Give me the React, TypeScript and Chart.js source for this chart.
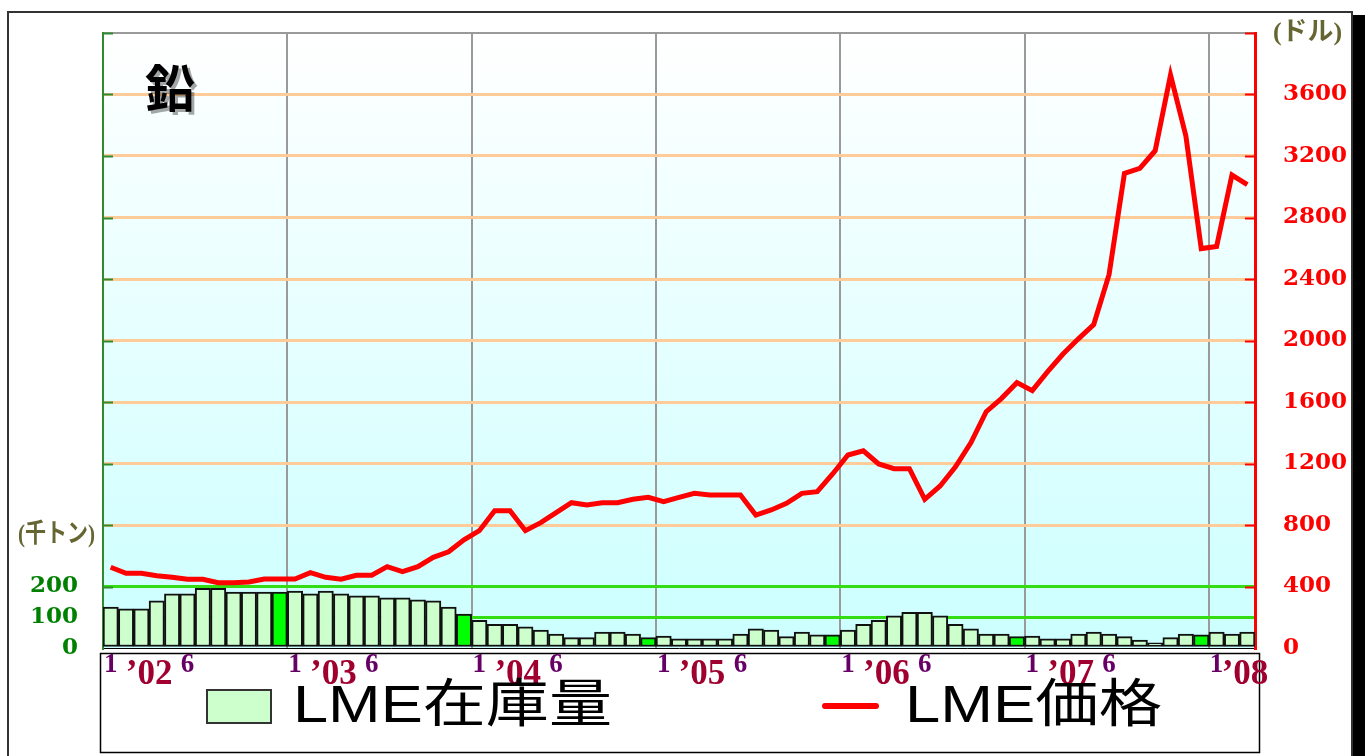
import React, { useEffect, useRef } from "react";
import { Chart, registerables } from "chart.js";

Chart.register(...registerables);

// ---- data ----
const categories: string[] = [
  "2002/01", "2002/02", "2002/03", "2002/04", "2002/05", "2002/06", "2002/07", "2002/08", "2002/09", "2002/10", "2002/11", "2002/12",
  "2003/01", "2003/02", "2003/03", "2003/04", "2003/05", "2003/06", "2003/07", "2003/08", "2003/09", "2003/10", "2003/11", "2003/12",
  "2004/01", "2004/02", "2004/03", "2004/04", "2004/05", "2004/06", "2004/07", "2004/08", "2004/09", "2004/10", "2004/11", "2004/12",
  "2005/01", "2005/02", "2005/03", "2005/04", "2005/05", "2005/06", "2005/07", "2005/08", "2005/09", "2005/10", "2005/11", "2005/12",
  "2006/01", "2006/02", "2006/03", "2006/04", "2006/05", "2006/06", "2006/07", "2006/08", "2006/09", "2006/10", "2006/11", "2006/12",
  "2007/01", "2007/02", "2007/03", "2007/04", "2007/05", "2007/06", "2007/07", "2007/08", "2007/09", "2007/10", "2007/11", "2007/12",
  "2008/01", "2008/02", "2008/03",
];

// LME inventory (thousand tonnes)
const stock: number[] = [
  133, 127, 127, 153, 176, 176, 194, 194, 182, 182, 182, 182,
  185, 176, 185, 176, 170, 170, 163, 163, 157, 153, 133, 110,
  90, 77, 77, 69, 58, 45, 34, 34, 52, 52, 45, 34,
  39, 30, 30, 30, 30, 45, 62, 58, 37, 52, 43, 43,
  58, 77, 90, 105, 116, 116, 105, 77, 62, 45, 45, 37,
  39, 30, 30, 45, 52, 45, 37, 26, 17, 34, 45, 43,
  52, 45, 52,
];

// LME price (USD)
const price: number[] = [
  525, 486, 486, 470, 460, 447, 447, 425, 425, 429, 449, 449,
  449, 490, 460, 447, 473, 473, 529, 496, 529, 590, 626, 704,
  763, 893, 893, 763, 815, 880, 945, 930, 945, 945, 967, 980,
  952, 980, 1006, 995, 995, 995, 865, 898, 941, 1006, 1017, 1132,
  1255, 1283, 1197, 1166, 1166, 967, 1054, 1179, 1335, 1537, 1624, 1726,
  1674, 1797, 1912, 2011, 2104, 2430, 3087, 3120, 3234, 3727, 3330, 2598,
  2612, 3076, 3014,
];

const yearLabels: string[] = ["’02", "’03", "’04", "’05", "’06", "’07", "’08"];
const monthMarks: string[] = ["1", "6"];
const stockTickLabels: number[] = [0, 100, 200];
const priceMax = 4000;
const stockMax = 2000;

const titleText = "鉛";
const stockUnit = "(千トン)";
const priceUnit = "(ドル)";
const stockName = "LME在庫量";
const priceName = "LME価格";

function fitText(ctx: CanvasRenderingContext2D, text: string, x: number, y: number, w: number) {
  const m = ctx.measureText(text).width || 1;
  ctx.save();
  ctx.translate(x, y);
  ctx.scale(w / m, 1);
  ctx.textAlign = "left";
  ctx.fillText(text, 0, 0);
  ctx.restore();
}

export default function App() {
  const ref = useRef<HTMLCanvasElement>(null);

  useEffect(() => {
    const canvas = ref.current!;

    const decor = {
      id: "decor",
      beforeDraw(chart: any) {
        const ctx: CanvasRenderingContext2D = chart.ctx;
        const a = chart.chartArea;
        ctx.save();
        ctx.fillStyle = "#ffffff";
        ctx.fillRect(0, 0, chart.width, chart.height);
        // shadow + frame
        ctx.fillStyle = "#000000";
        ctx.fillRect(1352, 15, 13, 741);
        ctx.strokeStyle = "#333333";
        ctx.lineWidth = 2;
        ctx.strokeRect(8, 12, 1344, 750);
        // plot background gradient
        const g = ctx.createLinearGradient(0, a.top, 0, a.bottom);
        g.addColorStop(0, "#ffffff");
        g.addColorStop(1, "#ccffff");
        ctx.fillStyle = g;
        ctx.fillRect(a.left, a.top, a.right - a.left, a.bottom - a.top);
        ctx.restore();
      },
      afterDraw(chart: any) {
        const ctx: CanvasRenderingContext2D = chart.ctx;
        const a = chart.chartArea;
        const xs = chart.scales.x;
        const yR = chart.scales.yR;
        ctx.save();
        // inner tick marks
        ctx.lineWidth = 2;
        yR.ticks.forEach((t: any) => {
          if (t.value === 0) return;
          const y = Math.round(yR.getPixelForValue(t.value)) + 0.5;
          ctx.strokeStyle = "#ff0000";
          ctx.beginPath();
          ctx.moveTo(a.right - 10, y);
          ctx.lineTo(a.right, y);
          ctx.stroke();
          ctx.strokeStyle = "#2e8b2e";
          ctx.beginPath();
          ctx.moveTo(a.left, y);
          ctx.lineTo(a.left + 10, y);
          ctx.stroke();
        });

        // title
        ctx.font = "bold 50px 'Noto Sans CJK JP'";
        ctx.textBaseline = "middle";
        ctx.textAlign = "center";
        ctx.fillStyle = "rgba(0,0,0,0.35)";
        ctx.fillText(titleText, 173, 91);
        ctx.fillStyle = "#000000";
        ctx.fillText(titleText, 170, 88);

        // unit labels
        ctx.fillStyle = "#666633";
        ctx.font = "bold 26px 'Liberation Serif', 'Noto Sans CJK JP'";
        ctx.textBaseline = "middle";
        fitText(ctx, stockUnit, 18, 535, 77);
        fitText(ctx, priceUnit, 1273, 33, 69);

        // legend / label box
        ctx.fillStyle = "#ffffff";
        ctx.fillRect(100, 653, 1160, 100);
        ctx.strokeStyle = "#000000";
        ctx.lineWidth = 1.5;
        ctx.strokeRect(100.5, 653.5, 1159, 99);

        // x labels
        ctx.textBaseline = "alphabetic";
        ctx.textAlign = "center";
        const n = categories.length;
        categories.forEach((c, i) => {
          const m = String(parseInt(c.split("/")[1], 10));
          if (monthMarks.includes(m)) {
            ctx.fillStyle = "#660066";
            ctx.font = "bold 27px 'Liberation Serif'";
            ctx.fillText(m, xs.getPixelForValue(i), 672);
          }
        });
        yearLabels.forEach((lab, i) => {
          const pos = Math.min(i * 12 + 2.5, n - 1.15);
          ctx.fillStyle = "#a00030";
          ctx.font = "bold 35px 'Liberation Serif'";
          ctx.fillText(lab, xs.getPixelForValue(pos), 684);
        });

        // legend
        ctx.fillStyle = "#ccffcc";
        ctx.fillRect(207, 690, 64, 33);
        ctx.strokeStyle = "#333333";
        ctx.lineWidth = 2;
        ctx.strokeRect(207, 690, 64, 33);
        ctx.strokeStyle = "#ff0000";
        ctx.lineWidth = 6;
        ctx.lineCap = "round";
        ctx.beginPath();
        ctx.moveTo(825, 706);
        ctx.lineTo(876, 706);
        ctx.stroke();
        ctx.fillStyle = "#000000";
        ctx.font = "52px 'Liberation Sans', 'Noto Sans CJK JP'";
        ctx.textBaseline = "middle";
        fitText(ctx, stockName, 293, 708, 319);
        fitText(ctx, priceName, 905, 708, 257);
        ctx.restore();
      },
    };

    const noPadY = (w: number) => (s: any) => {
      s.width = w;
      s.paddingTop = 0;
      s.paddingBottom = 0;
    };

    const chart = new Chart(canvas, {
      type: "bar",
      data: {
        labels: categories,
        datasets: [
          {
            type: "line",
            label: priceName,
            data: price,
            yAxisID: "yR",
            borderColor: "#ff0000",
            borderWidth: 5,
            pointRadius: 0,
            tension: 0,
            order: 0,
          } as any,
          {
            type: "bar",
            label: stockName,
            data: stock,
            yAxisID: "yL",
            backgroundColor: categories.map((c) => (c.endsWith("/12") ? "#00ff00" : "#ccffcc")),
            borderColor: "#111111",
            borderWidth: 2,
            borderSkipped: false,
            barPercentage: 1,
            categoryPercentage: 1,
            order: 1,
          } as any,
        ],
      },
      options: {
        responsive: false,
        animation: false,
        layout: { padding: { top: 33, bottom: 108, left: 0, right: 0 } },
        plugins: { legend: { display: false }, tooltip: { enabled: false }, title: { display: false } },
        scales: {
          x: {
            type: "category",
            offset: true,
            z: 1,
            ticks: { display: false },
            grid: {
              offset: true,
              drawTicks: false,
              lineWidth: 2,
              color: (c: any) => (c.index > 0 && c.index % 12 === 0 ? "#9a9a9a" : "rgba(0,0,0,0)"),
            },
            border: { color: "#000000", width: 1 },
            afterFit(s: any) {
              s.height = 0;
              s.paddingLeft = 0;
              s.paddingRight = 0;
            },
          },
          yL: {
            position: "left",
            min: 0,
            max: stockMax,
            z: 1,
            ticks: {
              stepSize: 100,
              autoSkip: false,
              padding: 25,
              color: "#008000",
              font: { family: "DejaVu Serif", weight: "bold", size: 23 },
              callback: (v: any) => (stockTickLabels.includes(Number(v)) ? String(v) : ""),
            },
            grid: {
              drawTicks: false,
              lineWidth: 3,
              color: (c: any) =>
                c.tick && (c.tick.value === 100 || c.tick.value === 200) ? "#33dd11" : "rgba(0,0,0,0)",
            },
            border: { color: "#2e8b2e", width: 2 },
            afterFit: noPadY(103),
          },
          yR: {
            position: "right",
            min: 0,
            max: priceMax,
            ticks: {
              stepSize: 400,
              autoSkip: false,
              padding: 28,
              color: "#ff0000",
              font: { family: "DejaVu Serif", weight: "bold", size: 23 },
              callback: (v: any) => (Number(v) >= priceMax ? "" : String(v)),
            },
            grid: {
              drawTicks: false,
              lineWidth: (c: any) => (c.tick && c.tick.value === priceMax ? 2 : 3),
              color: (c: any) => {
                const v = c.tick ? c.tick.value : -1;
                if (v === priceMax) return "#9a9a9a";
                if (v <= 400) return "rgba(0,0,0,0)";
                return "#ffcc99";
              },
            },
            border: { color: "#ff0000", width: 3 },
            afterFit: noPadY(110),
          },
        },
      },
      plugins: [decor],
    } as any);

    return () => chart.destroy();
  }, []);

  return (
    <div style={{ position: "fixed", left: 0, top: 0, width: 1365, height: 756, background: "#fff" }}>
      <canvas ref={ref} width={1365} height={756} style={{ display: "block" }} />
    </div>
  );
}
